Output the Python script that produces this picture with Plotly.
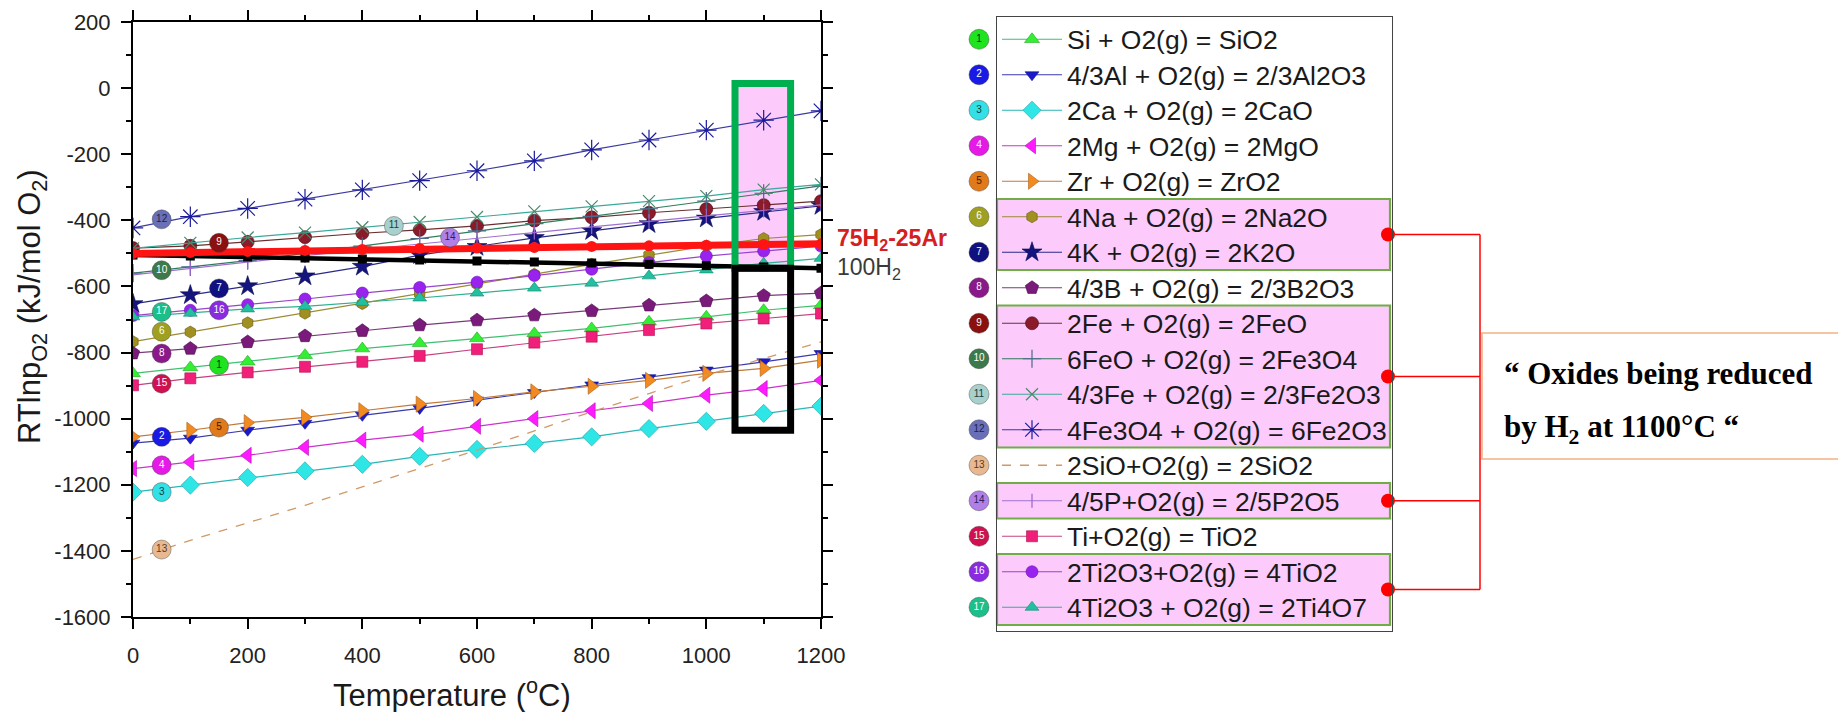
import plotly.graph_objects as go

W, H = 1838, 712

# ---------------- data ----------------
TEMPS = [0, 100, 200, 300, 400, 500, 600, 700, 800, 900, 1000, 1100, 1200]

SI = [-863, -845, -828, -808, -788, -772, -757, -742, -727, -707, -692, -672, -657]
AL = [-1074, -1059, -1035, -1014, -990, -969, -944, -921, -898, -876, -853, -828, -803]
CA = [-1222, -1201, -1178, -1158, -1138, -1114, -1093, -1075, -1055, -1030, -1008, -984, -962]
MG = [-1151, -1131, -1111, -1087, -1065, -1047, -1023, -1000, -976, -954, -929, -909, -884]
ZR = [-1055, -1035, -1012, -996, -976, -956, -939, -919, -902, -884, -863, -848, -823]
NA = [-767, -738, -710, -681, -652, -622, -593, -563, -533, -505, -478, -455, -443]
K = [-653, -626, -599, -569, -540, -505, -480, -453, -432, -411, -394, -374, -356]
B = [-802, -788, -768, -750, -734, -717, -702, -687, -674, -657, -644, -628, -620]
FEO = [-484, -477, -465, -451, -439, -429, -417, -401, -391, -377, -366, -354, -342]
FE3O4 = [-560, -541, -522, -500, -478, -455, -432, -410, -388, -365, -342, -318, -296]
FE2O3 = [-485, -468, -452, -437, -421, -405, -390, -373, -358, -342, -327, -307, -291]
FE3O4_FE2O3 = [-423, -389, -364, -336, -308, -280, -250, -220, -187, -157, -127, -97, -69]
SIO = [-1426, -1368, -1315, -1262, -1206, -1151, -1095, -1037, -979, -924, -868, -818, -768]
P2O5 = [-565, -545, -526, -507, -489, -471, -454, -437, -420, -403, -386, -370, -353]
TIO2 = [-899, -878, -860, -843, -828, -810, -790, -770, -752, -732, -712, -697, -682]
TI2O3_TIO2 = [-688, -672, -655, -638, -620, -603, -587, -567, -548, -528, -508, -493, -478]
TI2O3_TI4O7 = [-692, -681, -668, -660, -648, -635, -620, -605, -590, -568, -550, -530, -515]
H2_75_AR_25 = [-500, -497, -494, -491, -488, -485, -484, -482, -479, -477, -475, -473, -471]
H2_100 = [-505, -508, -511, -514, -517, -520, -523, -526, -529, -533, -537, -541, -545]

SERIES_VALUES = [SI, AL, CA, MG, ZR, NA, K, B, FEO, FE3O4, FE2O3, FE3O4_FE2O3,
                 SIO, P2O5, TIO2, TI2O3_TIO2, TI2O3_TI4O7]
SERIES_NAMES = [
    "Si + O2(g) = SiO2",
    "4/3Al + O2(g) = 2/3Al2O3",
    "2Ca + O2(g) = 2CaO",
    "2Mg + O2(g) = 2MgO",
    "Zr + O2(g) = ZrO2",
    "4Na + O2(g) = 2Na2O",
    "4K + O2(g) = 2K2O",
    "4/3B + O2(g) = 2/3B2O3",
    "2Fe + O2(g) = 2FeO",
    "6FeO + O2(g) = 2Fe3O4",
    "4/3Fe + O2(g) = 2/3Fe2O3",
    "4Fe3O4 + O2(g) = 6Fe2O3",
    "2SiO+O2(g) = 2SiO2",
    "4/5P+O2(g) = 2/5P2O5",
    "Ti+O2(g) = TiO2",
    "2Ti2O3+O2(g) = 4TiO2",
    "4Ti2O3 + O2(g) = 2Ti4O7",
]
SERIES_NUMBERS = [str(i) for i in range(1, 18)]

# numbered badge positions on the chart
BADGE_T = [150, 50, 50, 50, 150, 50, 150, 50, 150, 50, 455, 50, 50, 553, 50, 150, 50]
BADGE_V = [-838, -1055, -1222, -1141, -1027, -737, -606, -803, -468, -551, -417, -397,
           -1396, -452, -894, -672, -677]

# legend rows that are highlighted (groups of series numbers)
HIGHLIGHT_GROUPS = [(6, 7), (9, 12), (14, 14), (16, 17)]

X_TICKS = [0, 200, 400, 600, 800, 1000, 1200]
X_TICK_LABELS = ["0", "200", "400", "600", "800", "1000", "1200"]
Y_TICKS = [200, 0, -200, -400, -600, -800, -1000, -1200, -1400, -1600]
Y_TICK_LABELS = ["200", "0", "-200", "-400", "-600", "-800", "-1000", "-1200", "-1400", "-1600"]

# ---------------- styles ----------------
STYLES = [
    dict(sym="triangle-up", mc="#33ee33", ml="#22aa22", size=13, lc="#3fbf6f"),
    dict(sym="triangle-down", mc="#1a1acc", ml="#10108a", size=12, lc="#3a3ab0"),
    dict(sym="diamond", mc="#2ee6e6", ml="#1fa5a5", size=14, lc="#2bb5b5"),
    dict(sym="triangle-left", mc="#ff1aff", ml="#b010b0", size=14, lc="#cc33cc"),
    dict(sym="triangle-right", mc="#f28a1f", ml="#b0601a", size=14, lc="#c07838"),
    dict(sym="hexagon", mc="#a09020", ml="#6a5a10", size=12, lc="#9a8a30"),
    dict(sym="star", mc="#14147e", ml="#0a0a50", size=15, lc="#2a2a8a"),
    dict(sym="pentagon", mc="#7a1a7a", ml="#4a0a4a", size=14, lc="#7a3a7a"),
    dict(sym="circle", mc="#8b1a2a", ml="#4a0a10", size=13, lc="#6a3030"),
    dict(sym="cross-thin-open", mc="#4a6a8a", ml="#4a6a8a", size=13, lc="#2e7d5a"),
    dict(sym="x-thin-open", mc="#4a8a6a", ml="#4a8a6a", size=12, lc="#3aa89a"),
    dict(sym="asterisk-open", mc="#1a1a9a", ml="#1a1a9a", size=17, lc="#3a3aa0"),
    dict(sym=None, mc="#d0a070", ml="#d0a070", size=0, lc="#d09a68"),
    dict(sym="line-ns-open", mc="#9966cc", ml="#9966cc", size=10, lc="#a070d0"),
    dict(sym="square", mc="#f0207a", ml="#b01050", size=11, lc="#c84080"),
    dict(sym="circle", mc="#9a22ee", ml="#6a10b0", size=12, lc="#9944cc"),
    dict(sym="triangle-up", mc="#22c0a0", ml="#108a70", size=12, lc="#30b090"),
]
BADGE_COLORS = ["#1ee31e", "#1a1ae6", "#33e0e6", "#e61ae6", "#e07a1a", "#a0a020",
                "#101080", "#8a1a8a", "#8b1010", "#3c7a4c", "#a8d0cc", "#6a70b8",
                "#e8b890", "#b080e8", "#d01050", "#8a2be2", "#1abf8a"]
BADGE_TEXT = ["#103010", "#ffffff", "#104040", "#ffffff", "#402000", "#ffffff",
              "#ffffff", "#ffffff", "#ffffff", "#ffffff", "#204040", "#20204a",
              "#5a3a20", "#30205a", "#ffffff", "#ffffff", "#ffffff"]

# ---------------- geometry (pixels) ----------------
PX_L, PX_R, PX_T, PX_B = 133, 821, 22, 617
L_LEFT = 996
L_TOP = 15.5
ROW_H = 35.5
L_RIGHT = 1391


def xp(px):
    return px / W


def yp(py):
    return 1 - py / H


def row_top(k):
    return L_TOP + 6 + ROW_H * (k - 1)


fig = go.Figure()

for i, vals in enumerate(SERIES_VALUES):
    st = STYLES[i]
    name = '<span style="font-size:26.5px">' + SERIES_NAMES[i] + "</span>"
    if st["sym"] is None:
        fig.add_trace(go.Scatter(
            x=TEMPS, y=vals, mode="lines", name=name,
            line=dict(color=st["lc"], width=1.3, dash="dash"),
        ))
    else:
        fig.add_trace(go.Scatter(
            x=TEMPS, y=vals, mode="lines+markers", name=name,
            line=dict(color=st["lc"], width=1.2),
            marker=dict(symbol=st["sym"], color=st["mc"], size=st["size"],
                        line=dict(color=st["ml"], width=1.2 if "open" in st["sym"] else 0.6)),
        ))

# hydrogen reference lines
fig.add_trace(go.Scatter(
    x=TEMPS, y=H2_100, mode="lines+markers", showlegend=False,
    line=dict(color="#000000", width=4.5),
    marker=dict(symbol="square", size=9, color="#000000"),
))
fig.add_trace(go.Scatter(
    x=TEMPS, y=H2_75_AR_25, mode="lines+markers", showlegend=False,
    line=dict(color="#ff1414", width=7),
    marker=dict(symbol="circle", size=11, color="#ff1414"),
))

# numbered badges on the chart
fig.add_trace(go.Scatter(
    x=BADGE_T, y=BADGE_V, mode="markers+text", showlegend=False,
    text=SERIES_NUMBERS, textposition="middle center",
    textfont=dict(family="Liberation Sans, Arial", size=10, color=BADGE_TEXT),
    marker=dict(size=19, color=BADGE_COLORS, line=dict(color="rgba(60,60,60,0.5)", width=0.8)),
))

# numbered badges beside the legend (helper axes)
fig.add_trace(go.Scatter(
    x=[0.5] * len(SERIES_NUMBERS), y=list(range(1, len(SERIES_NUMBERS) + 1)),
    mode="markers+text", showlegend=False, xaxis="x2", yaxis="y2", cliponaxis=False,
    text=SERIES_NUMBERS, textposition="middle center",
    textfont=dict(family="Liberation Sans, Arial", size=10, color=BADGE_TEXT),
    marker=dict(size=20, color=BADGE_COLORS, line=dict(color="rgba(60,60,60,0.5)", width=0.8)),
))

shapes = []
# highlight box at 1100 C on the chart
shapes.append(dict(type="rect", xref="x", yref="y", x0=1050, x1=1147, y0=14, y1=-545,
                   fillcolor="#fccbfc", line=dict(width=0), layer="below"))
shapes.append(dict(type="rect", xref="x", yref="y", x0=1050, x1=1147, y0=14, y1=-545,
                   fillcolor="rgba(0,0,0,0)", line=dict(color="#00b050", width=7), layer="above"))
shapes.append(dict(type="rect", xref="x", yref="y", x0=1050, x1=1147, y0=-545, y1=-1035,
                   fillcolor="rgba(0,0,0,0)", line=dict(color="#000000", width=7), layer="above"))

# legend group highlights + red bracket
BR_X = 1480
centers = []
for a, b in HIGHLIGHT_GROUPS:
    t = row_top(a)
    bt = row_top(b + 1)
    centers.append((t + bt) / 2)
    shapes.append(dict(type="rect", xref="paper", yref="paper",
                       x0=xp(L_LEFT + 1), x1=xp(L_RIGHT - 1), y0=yp(t), y1=yp(bt),
                       fillcolor="#fccbfc", line=dict(color="#70ad47", width=2.2), layer="below"))
for c in centers:
    shapes.append(dict(type="line", xref="paper", yref="paper",
                       x0=xp(L_RIGHT - 3), x1=xp(BR_X), y0=yp(c), y1=yp(c),
                       line=dict(color="#ff0000", width=1.5)))
    shapes.append(dict(type="circle", xref="paper", yref="paper",
                       x0=xp(L_RIGHT - 3 - 7), x1=xp(L_RIGHT - 3 + 7), y0=yp(c - 7), y1=yp(c + 7),
                       fillcolor="#ff0000", line=dict(width=0)))
shapes.append(dict(type="line", xref="paper", yref="paper",
                   x0=xp(BR_X), x1=xp(BR_X), y0=yp(centers[0]), y1=yp(centers[-1]),
                   line=dict(color="#ff0000", width=1.5)))
# note box
shapes.append(dict(type="rect", xref="paper", yref="paper",
                   x0=xp(1482), x1=xp(1842), y0=yp(333), y1=yp(459),
                   fillcolor="rgba(0,0,0,0)", line=dict(color="#f4b183", width=1.5)))

annotations = [
    dict(text="RTlnp<sub>O2</sub> (kJ/mol O<sub>2</sub>)", xref="paper", yref="paper",
         x=xp(32), y=yp(307), textangle=-90, showarrow=False, xanchor="center", yanchor="middle",
         font=dict(family="Liberation Sans, Arial", size=31, color="#1a1a1a")),
    dict(text="Temperature (<sup>o</sup>C)", xref="paper", yref="paper",
         x=xp(452), y=yp(693), showarrow=False, xanchor="center", yanchor="middle",
         font=dict(family="Liberation Sans, Arial", size=31, color="#1a1a1a")),
    dict(text="<b>75H<sub>2</sub>-25Ar</b>", xref="x", yref="y", x=1200, y=-458,
         xanchor="left", yanchor="middle", xshift=14, showarrow=False,
         font=dict(family="Liberation Sans, Arial", size=23, color="#d42020")),
    dict(text="100H<sub>2</sub>", xref="x", yref="y", x=1200, y=-546,
         xanchor="left", yanchor="middle", xshift=14, showarrow=False,
         font=dict(family="Liberation Sans, Arial", size=23, color="#3a3a3a")),
    dict(text="<b>\u201c Oxides being reduced</b>", xref="paper", yref="paper",
         x=xp(1502), y=yp(373), xanchor="left", yanchor="middle", showarrow=False,
         font=dict(family="Liberation Serif, Times New Roman", size=31, color="#000000")),
    dict(text="<b>by H<sub>2</sub> at 1100\u00b0C \u201c</b>", xref="paper", yref="paper",
         x=xp(1502), y=yp(429), xanchor="left", yanchor="middle", showarrow=False,
         font=dict(family="Liberation Serif, Times New Roman", size=31, color="#000000")),
]

axis_font = dict(family="Liberation Sans, Arial", size=22, color="#222222")

fig.update_layout(
    template="none",
    width=W, height=H, autosize=False,
    margin=dict(l=0, r=0, t=0, b=0, pad=0),
    paper_bgcolor="white", plot_bgcolor="white",
    showlegend=True,
    legend=dict(x=xp(L_LEFT), y=yp(L_TOP), xanchor="left", yanchor="top",
                bgcolor="rgba(0,0,0,0)", bordercolor="#444444", borderwidth=1,
                font=dict(family="Liberation Sans, Arial", size=25, color="#1a1a1a"),
                itemwidth=60, tracegroupgap=0, traceorder="normal"),
    xaxis=dict(domain=[xp(PX_L), xp(PX_R)], range=[0, 1200],
               tickmode="array", tickvals=X_TICKS, ticktext=X_TICK_LABELS,
               ticks="outside", ticklen=10, tickwidth=2, tickcolor="black",
               showline=True, linewidth=2, linecolor="black", mirror="ticks",
               showgrid=False, zeroline=False, tickfont=axis_font, automargin=False,
               ticklabelstandoff=8,
               minor=dict(dtick=100, ticks="outside", ticklen=5, tickwidth=2,
                          tickcolor="black", showgrid=False)),
    yaxis=dict(domain=[yp(PX_B), yp(PX_T)], range=[-1600, 200],
               tickmode="array", tickvals=Y_TICKS, ticktext=Y_TICK_LABELS,
               ticks="outside", ticklen=10, tickwidth=2, tickcolor="black",
               showline=True, linewidth=2, linecolor="black", mirror="ticks",
               showgrid=False, zeroline=False, tickfont=axis_font, automargin=False,
               ticklabelstandoff=6,
               minor=dict(dtick=100, ticks="outside", ticklen=5, tickwidth=2,
                          tickcolor="black", showgrid=False)),
    xaxis2=dict(domain=[xp(969), xp(989)], range=[0, 1], visible=False, anchor="y2",
                showgrid=False, zeroline=False, fixedrange=True),
    yaxis2=dict(domain=[yp(row_top(18)), yp(row_top(1))], range=[17.5, 0.5], visible=False,
                anchor="x2", showgrid=False, zeroline=False, fixedrange=True),
    shapes=shapes,
    annotations=annotations,
)

fig.write_html("out.html")
